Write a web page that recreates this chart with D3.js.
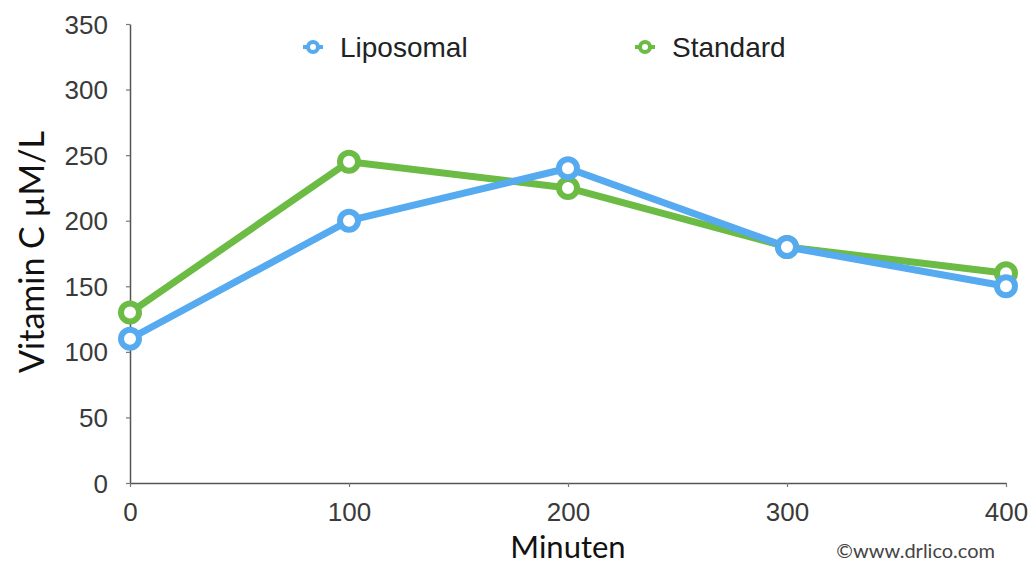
<!DOCTYPE html>
<html><head><meta charset="utf-8">
<script src="https://cdn.jsdelivr.net/npm/d3@7"></script>
<style>body{margin:0;background:#fff}svg{display:block}</style>
</head><body>
<svg id="c" width="1031" height="566"></svg>
<script>
const minutes = [0, 100, 200, 300, 400];
const liposomal = [110, 200, 240, 180, 150];
const standard = [130, 245, 225, 180, 160];
const yTicks = [0, 50, 100, 150, 200, 250, 300, 350];
const xTicks = [0, 100, 200, 300, 400];
const seriesNames = ["Liposomal", "Standard"];
const colors = ["#55aaf0", "#6cbb44"];

const svg = d3.select("#c");
const x = d3.scaleLinear().domain([0, 400]).range([130, 1006]);
const y = d3.scaleLinear().domain([0, 350]).range([483, 24]);
const font = "'Liberation Sans', Arial, sans-serif";

const yAxis = svg.append("g").attr("transform", "translate(130,0)")
  .call(d3.axisLeft(y).tickValues(yTicks).tickSize(4).tickPadding(18).tickSizeOuter(0));
const xAxis = svg.append("g").attr("transform", "translate(0,483)")
  .call(d3.axisBottom(x).tickValues(xTicks).tickSize(4).tickPadding(16).tickSizeOuter(0));
[yAxis, xAxis].forEach(a => {
  a.select(".domain").attr("stroke", "#555").attr("stroke-width", 1.5);
  a.selectAll(".tick line").attr("stroke", "#777").attr("stroke-width", 1.2);
  a.selectAll("text").attr("font-family", font).attr("font-size", 26).attr("fill", "#3a3a3a");
});
yAxis.selectAll("text").attr("dy", "0.35em");

const data = [liposomal, standard];
const line = d3.line().x((d, i) => x(minutes[i])).y(d => y(d));
[1, 0].forEach(s => {
  svg.append("path").datum(data[s]).attr("d", line)
    .attr("fill", "none").attr("stroke", colors[s]).attr("stroke-width", 7)
    .attr("stroke-linejoin", "round");
});
[1, 0].forEach(s => {
  svg.selectAll(null).data(data[s]).enter().append("circle")
    .attr("cx", (d, i) => x(minutes[i])).attr("cy", d => y(d)).attr("r", 9)
    .attr("fill", "#fff").attr("stroke", colors[s]).attr("stroke-width", 6);
});

// legend
const legX = [313, 645];
seriesNames.forEach((n, i) => {
  svg.append("line").attr("x1", legX[i] - 10).attr("x2", legX[i] + 10).attr("y1", 47).attr("y2", 47)
    .attr("stroke", colors[i]).attr("stroke-width", 4);
  svg.append("circle").attr("cx", legX[i]).attr("cy", 47).attr("r", 5)
    .attr("fill", "#fff").attr("stroke", colors[i]).attr("stroke-width", 4);
  svg.append("text").attr("x", legX[i] + 27).attr("y", 57).text(n)
    .attr("font-family", font).attr("font-size", 28).attr("fill", "#222");
});

svg.append("text").attr("transform", "translate(44,252) rotate(-90)").attr("text-anchor", "middle")
  .attr("font-family", "Lato, 'Open Sans', sans-serif").attr("font-size", 34).attr("fill", "#111")
  .text("Vitamin C µM/L");
svg.append("text").attr("x", 568).attr("y", 558).attr("text-anchor", "middle")
  .attr("font-family", "Lato, 'Open Sans', sans-serif").attr("font-size", 31).attr("fill", "#111")
  .text("Minuten");
svg.append("text").attr("x", 995).attr("y", 558).attr("text-anchor", "end")
  .attr("font-family", "Lato, 'Open Sans', sans-serif").attr("font-size", 20).attr("fill", "#444")
  .text("©www.drlico.com");
</script>
</body></html>
